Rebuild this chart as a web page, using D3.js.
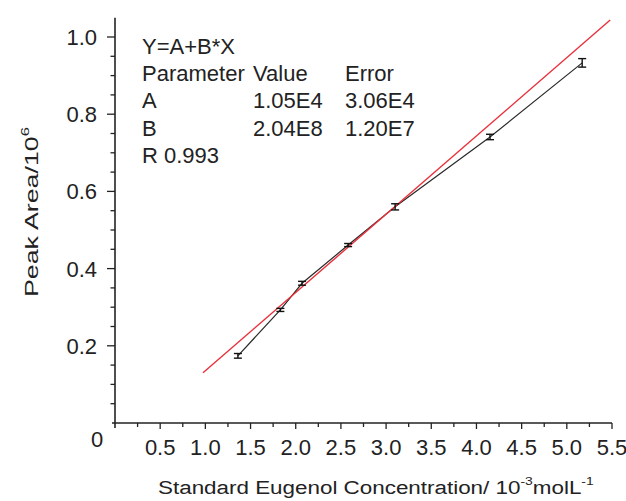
<!DOCTYPE html>
<html><head><meta charset="utf-8">
<script src="https://cdn.jsdelivr.net/npm/d3@7"></script>
<style>
html,body{margin:0;padding:0;background:#fff;}
svg text{font-family:"Liberation Sans",Arial,sans-serif;fill:#222;}
</style></head>
<body><svg id="c" width="626" height="501"></svg>
<script>
// ---- data ----
const concX   = [1.36, 1.83, 2.07, 2.58, 3.10, 4.15, 5.17];          // 10^-3 mol/L
const peakY   = [0.174, 0.293, 0.362, 0.461, 0.560, 0.741, 0.933];   // 10^6
const peakErr = [0.006, 0.004, 0.005, 0.004, 0.008, 0.007, 0.011];
const fitX    = [0.974, 5.48];
const fitY    = [0.130, 1.044];
const xTickLabels = ["0.5","1.0","1.5","2.0","2.5","3.0","3.5","4.0","4.5","5.0","5.5"];
const yTickLabels = ["0.2","0.4","0.6","0.8","1.0"];
const annotRows = [
  ["Y=A+B*X", "", ""],
  ["Parameter", "Value", "Error"],
  ["A", "1.05E4", "3.06E4"],
  ["B", "2.04E8", "1.20E7"],
  ["R 0.993", "", ""]
];
const xTitleParts = [["Standard Eugenol Concentration/ 10",false],["-3",true],["molL",false],["-1",true]];
const yTitleParts = [["Peak Area/10",false],["6",true]];

// ---- layout ----
const svg = d3.select("#c");
const x = d3.scaleLinear().domain([0, 5.5]).range([115, 612]);
const y = d3.scaleLinear().domain([0, 1.05]).range([423, 17.7]);
const ink = "#222";

// y axis
const gy = svg.append("g");
gy.append("line").attr("x1", x(0)).attr("x2", x(0)).attr("y1", y(1.05)).attr("y2", y(0) + 5)
  .attr("stroke", ink).attr("stroke-width", 1.6);
const yMinor = d3.range(1, 21).map(i => i * 0.05);
gy.selectAll("line.t").data(yMinor).enter().append("line")
  .attr("x1", x(0)).attr("y1", d => y(d)).attr("y2", d => y(d))
  .attr("x2", (d, i) => x(0) - ((i + 1) % 4 === 0 ? 8 : 4.5))
  .attr("stroke", ink).attr("stroke-width", 1.3);
gy.selectAll("text").data(yTickLabels).enter().append("text")
  .attr("x", 97).attr("y", d => y(+d) + 8).attr("text-anchor", "end")
  .attr("font-size", 22).text(d => d);

// x axis
const gx = svg.append("g");
gx.append("line").attr("x1", x(0) - 3).attr("x2", x(5.5)).attr("y1", y(0)).attr("y2", y(0))
  .attr("stroke", ink).attr("stroke-width", 1.6);
const xMinor = d3.range(1, 23).map(i => i * 0.25);
gx.selectAll("line.t").data(xMinor).enter().append("line")
  .attr("x1", d => x(d)).attr("x2", d => x(d)).attr("y1", y(0))
  .attr("y2", (d, i) => y(0) + ((i + 1) % 2 === 0 ? 6 : 4))
  .attr("stroke", ink).attr("stroke-width", 1.3);
gx.selectAll("text").data(xTickLabels).enter().append("text")
  .attr("x", d => x(+d)).attr("y", 455).attr("text-anchor", "middle")
  .attr("font-size", 22).text(d => d);
svg.append("text").attr("x", 97).attr("y", 447).attr("text-anchor", "middle")
  .attr("font-size", 22).text("0");

// data line (black), fit line (red), error bars
const line = d3.line().x(d => x(d[0])).y(d => y(d[1]));
svg.append("path").datum(concX.map((c, i) => [c, peakY[i]]))
  .attr("d", line).attr("fill", "none").attr("stroke", "#2a2a2a").attr("stroke-width", 1.2);
svg.append("path").datum(fitX.map((c, i) => [c, fitY[i]]))
  .attr("d", line).attr("fill", "none").attr("stroke", "#e8313c").attr("stroke-width", 1.4);
const eb = svg.append("g").attr("stroke", "#111").attr("stroke-width", 1.4);
concX.forEach((c, i) => {
  const cx = x(c), t = y(peakY[i] + peakErr[i]), b = y(peakY[i] - peakErr[i]);
  eb.append("line").attr("x1", cx).attr("x2", cx).attr("y1", t).attr("y2", b);
  eb.append("line").attr("x1", cx - 4).attr("x2", cx + 4).attr("y1", t).attr("y2", t);
  eb.append("line").attr("x1", cx - 4).attr("x2", cx + 4).attr("y1", b).attr("y2", b);
});

// annotation
const colX = [142, 253, 345];
const rowY = [54, 81, 108, 136, 163];
annotRows.forEach((r, ri) => r.forEach((s, ci) => {
  if (!s) return;
  svg.append("text").attr("x", colX[ci]).attr("y", rowY[ri]).attr("font-size", 22).text(s);
}));

// axis titles fitted to measured extents
function title(parts, tx, ty, rot, targetLen, fs) {
  const g = svg.append("g").attr("transform", `translate(${tx},${ty}) rotate(${rot})`);
  const inner = g.append("g");
  const t = inner.append("text").attr("x", 0).attr("y", 0).attr("font-size", fs);
  let prevSup = false;
  parts.forEach(([s, sup]) => {
    const sp = t.append("tspan").text(s);
    if (sup) sp.attr("font-size", fs * 0.62).attr("dy", -fs * 0.5);
    else if (prevSup) sp.attr("dy", fs * 0.5);
    prevSup = sup;
  });
  const bb = t.node().getBBox();
  inner.attr("transform", `scale(${targetLen / bb.width},1)`);
}
title(xTitleParts, 158, 494, 0, 436, 19);
title(yTitleParts, 38, 297, -90, 170, 18);
</script></body></html>
